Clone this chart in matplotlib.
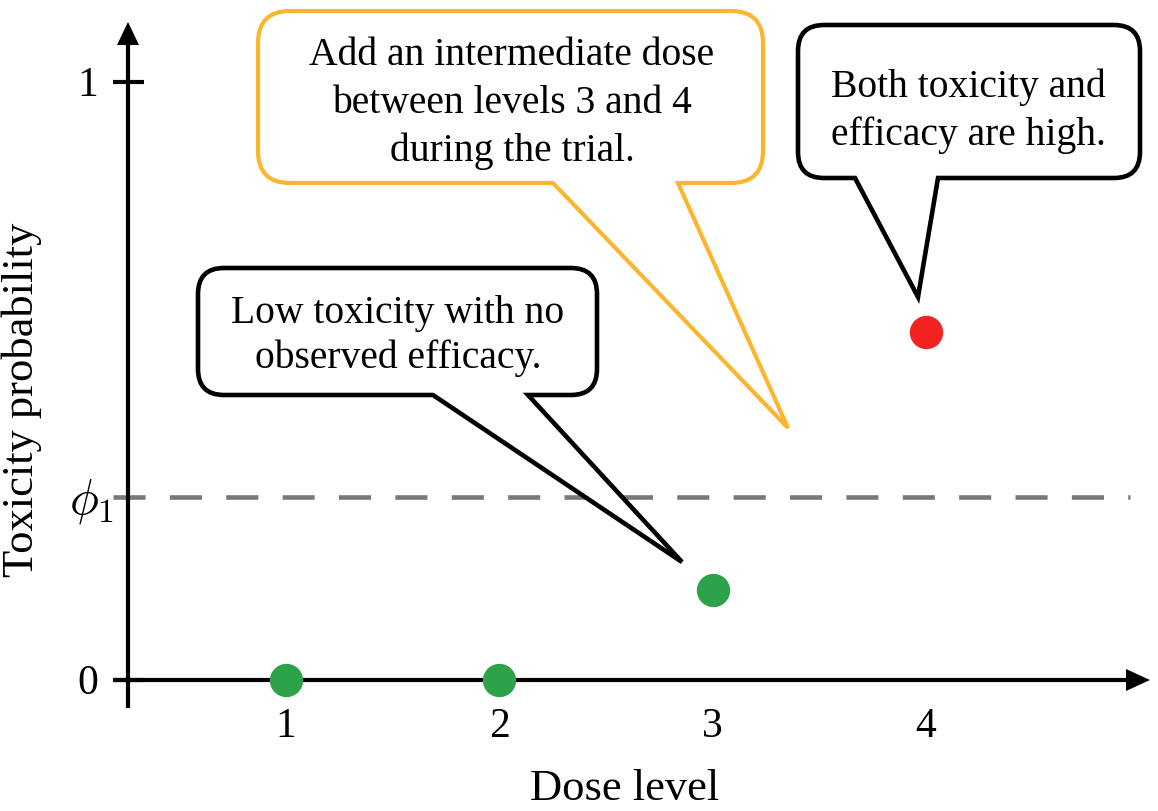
import matplotlib
matplotlib.use("Agg")
import matplotlib.pyplot as plt
from matplotlib.path import Path
from matplotlib.patches import PathPatch, FancyArrow
from matplotlib.transforms import Affine2D

plt.rcParams['font.family'] = ['Liberation Serif', 'DejaVu Serif']
plt.rcParams['mathtext.fontset'] = 'cm'

# ---- data ----
dose_levels = [1, 2, 3, 4]
tox_prob = [0.0, 0.0, 0.15, 0.582]
point_colors = ['#2ea24a', '#2ea24a', '#2ea24a', '#f52222']
phi1 = 0.306
x_tick_labels = ['1', '2', '3', '4']
y_ticks = [0, 1]
y_tick_labels = ['0', '1']
xlabel = 'Dose level'
ylabel = 'Toxicity probability'
callout_texts = [
    ['Add an intermediate dose', 'between levels 3 and 4', 'during the trial.'],
    ['Low toxicity with no', 'observed efficacy.'],
    ['Both toxicity and', 'efficacy are high.'],
]

W, H = 1158, 811
fig = plt.figure(figsize=(W / 100, H / 100), dpi=100)
ax = fig.add_axes([0, 0, 1, 1])
ax.set_axis_off()

# data <-> pixel mapping (x: 1 at px 286, 213.3 px/unit; y: 0 at px 680, 598 px/unit)
xpu, ypu = 213.3, 598.0
ax.set_xlim(1 - 286 / xpu, 1 + (W - 286) / xpu)
ax.set_ylim(-(H - 680) / ypu, 680 / ypu)

def px2x(p):
    return 1 + (p - 286) / xpu

def py2y(p):
    return (680 - p) / ypu

# pixel transform (origin top-left)
pix = Affine2D().scale(1 / W, -1 / H).translate(0, 1) + fig.transFigure

lw_axis = 3.0
x0 = px2x(128)

# dashed threshold line
ax.plot([px2x(113), px2x(1130)], [phi1, phi1], color='#787878', lw=3.3,
        linestyle=(0, (7.0, 5.3)), zorder=1, solid_capstyle='butt', dash_capstyle='butt')

# y axis with arrow
ax.plot([x0, x0], [py2y(708), py2y(40)], color='black', lw=lw_axis, zorder=3,
        solid_capstyle='butt')
ax.add_patch(FancyArrow(x0, py2y(45), 0, py2y(22) - py2y(45), width=0,
                        head_width=22 / xpu, head_length=(23) / ypu,
                        length_includes_head=True, color='black', lw=0, zorder=3))
# x axis with arrow
ax.plot([px2x(113), px2x(1130)], [0, 0], color='black', lw=lw_axis, zorder=3,
        solid_capstyle='butt')
ax.add_patch(FancyArrow(px2x(1125), 0, px2x(1150) - px2x(1125), 0, width=0,
                        head_width=22 / ypu, head_length=24 / xpu,
                        length_includes_head=True, color='black', lw=0, zorder=3))
# y ticks
for yt in y_ticks:
    ax.plot([px2x(113), px2x(144)], [yt, yt], color='black', lw=lw_axis, zorder=3,
            solid_capstyle='butt')

# tick labels
for yt, lab in zip(y_ticks, y_tick_labels):
    ax.text(px2x(88), yt - 14 / ypu, lab, ha='center', va='baseline', fontsize=30, zorder=4)
ax.text(px2x(114), phi1 - 4 / ypu, r'$\phi_1$', ha='right', va='center', fontsize=35, zorder=4)
for xv, lab in zip(dose_levels, x_tick_labels):
    ax.text(xv, py2y(737), lab, ha='center', va='baseline', fontsize=30, zorder=4)

ax.text(px2x(625), py2y(800), xlabel, ha='center', va='baseline', fontsize=32)
ax.text(px2x(22), py2y(400), ylabel, ha='center', va='center', rotation=90, fontsize=32)

# points
for xv, yv, c in zip(dose_levels, tox_prob, point_colors):
    ax.plot([xv], [yv], 'o', color=c, markersize=24, markeredgewidth=0, zorder=5)

# callouts (pixel layout)
def callout(l, t, r, b, rad, bx1, bx2, tip, color, lw):
    verts = [(l + rad, t), (r - rad, t), (r, t), (r, t + rad), (r, b - rad), (r, b),
             (r - rad, b), (bx2, b), tip, (bx1, b), (l + rad, b), (l, b), (l, b - rad),
             (l, t + rad), (l, t), (l + rad, t), (l + rad, t)]
    codes = [Path.MOVETO, Path.LINETO, Path.CURVE3, Path.CURVE3, Path.LINETO, Path.CURVE3,
             Path.CURVE3, Path.LINETO, Path.LINETO, Path.LINETO, Path.LINETO, Path.CURVE3,
             Path.CURVE3, Path.LINETO, Path.CURVE3, Path.CURVE3, Path.CLOSEPOLY]
    p = PathPatch(Path(verts, codes), facecolor='white', edgecolor=color, lw=lw,
                  transform=pix, zorder=6, joinstyle='miter')
    fig.add_artist(p)

callout(258, 11, 763, 183, 32, 553, 678, (788, 428), '#fbb52e', 3.0)
callout(198, 268, 597, 395, 26, 433, 528, (682, 562), 'black', 3.3)
callout(798, 25, 1140, 178, 26, 855, 938, (918, 297), 'black', 3.3)

layouts = [(512, [65, 113, 161]), (398, [323, 368]), (968, [97, 145])]
for lines, (cx, ys) in zip(callout_texts, layouts):
    for line, yb in zip(lines, ys):
        fig.text(cx, yb, line, transform=pix, ha='center', va='baseline', fontsize=28.5, zorder=7)

fig.savefig('out.png', dpi=100)
